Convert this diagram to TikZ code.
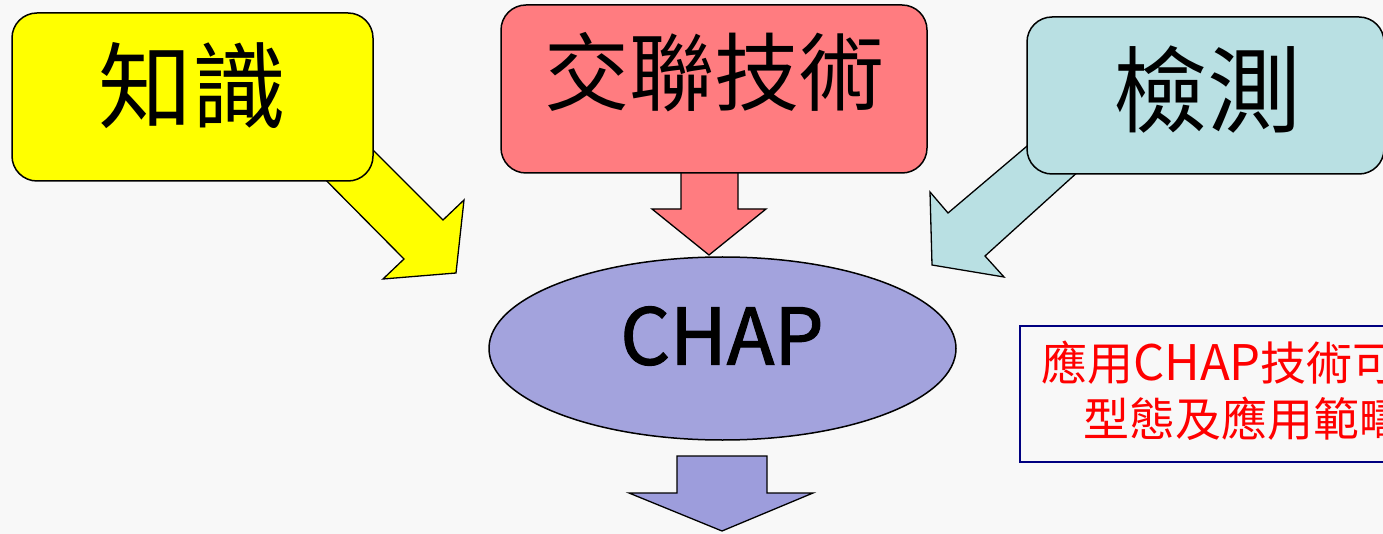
\documentclass[tikz,border=0pt]{standalone}
\usepackage{fontspec}
\newfontfamily\cjk{Noto Sans CJK TC}
\newfontfamily\chapfont[FakeBold=1.6]{Noto Sans CJK TC}
\usetikzlibrary{shapes.geometric}
\definecolor{bg}{HTML}{F8F8F8}
\definecolor{kyellow}{HTML}{FFFF00}
\definecolor{kred}{HTML}{FF7C80}
\definecolor{kteal}{HTML}{B9E0E3}
\definecolor{kell}{HTML}{A3A3DD}
\definecolor{kdown}{HTML}{9D9DDC}
\definecolor{knavy}{HTML}{000080}
\definecolor{ktext}{HTML}{FF0000}
\begin{document}
\begin{tikzpicture}[x=1pt,y=-1pt,
  box/.style={draw=black, line width=1.5pt, rounded corners=25pt, inner sep=0pt},
  blockarrow/.style={draw=black, line width=1.3pt, line join=miter},
  bigtext/.style={inner sep=0pt, font=\cjk\fontsize{94}{100}\selectfont},
  notetext/.style={inner sep=0pt, anchor=west, text=ktext, font=\cjk\fontsize{46}{50}\selectfont}]
\useasboundingbox (0,0) rectangle (1383,534);
\fill[bg] (0,0) rectangle (1383,534);
\clip (0,0) rectangle (1383,534);

% block arrows (behind boxes)
\filldraw[blockarrow, fill=kyellow] (343,120) -- (443,220) -- (464,200) -- (456,273) -- (383,279) -- (404,259) -- (297,151) -- cycle;
\filldraw[blockarrow, fill=kteal] (1059,119) -- (948,213) -- (930,192) -- (932,265) -- (1004,277) -- (985,256) -- (1112,141) -- cycle;
\filldraw[blockarrow, fill=kred] (681,150) -- (681,209) -- (652,209) -- (709,255) -- (766,209) -- (738,209) -- (738,150) -- cycle;

% boxes
\node[box, fill=kyellow, minimum width=361pt, minimum height=168pt] (know) at (192.5,97) {};
\node[box, fill=kred, minimum width=426pt, minimum height=168pt] (tech) at (714,89) {};
\node[box, fill=kteal, minimum width=357pt, minimum height=157pt] (det) at (1205.5,95.5) {};
\node[bigtext] (knowt) at (192,86) {知識};
\node[bigtext, font=\cjk\fontsize{85}{90}\selectfont] (techt) at (714,72) {交聯技術};
\node[bigtext] (dett) at (1207,90) {檢測};

% ellipse
\node[ellipse, draw=black, line width=1.5pt, fill=kell, minimum width=467pt, minimum height=183pt, inner sep=0pt] (chap) at (722.5,348.5) {};
\node[inner sep=0pt, font=\chapfont\fontsize{78}{90}\selectfont] (chapt) at (722,336) {CHAP};

% down arrow
\filldraw[blockarrow, fill=kdown] (677,456) -- (767,456) -- (767,493) -- (813,493) -- (722,531) -- (629,493) -- (677,493) -- cycle;

% note box
\node[draw=knavy, line width=1.8pt, minimum width=390pt, minimum height=136pt, anchor=north west, inner sep=0pt] (note) at (1019,325) {};
\node[notetext] (note1) at (1041,362.5) {應用{\fontsize{49}{50}\selectfont CHAP}技術可};
\node[notetext] (note2) at (1083,419) {型態及應用範疇};
\end{tikzpicture}
\end{document}
